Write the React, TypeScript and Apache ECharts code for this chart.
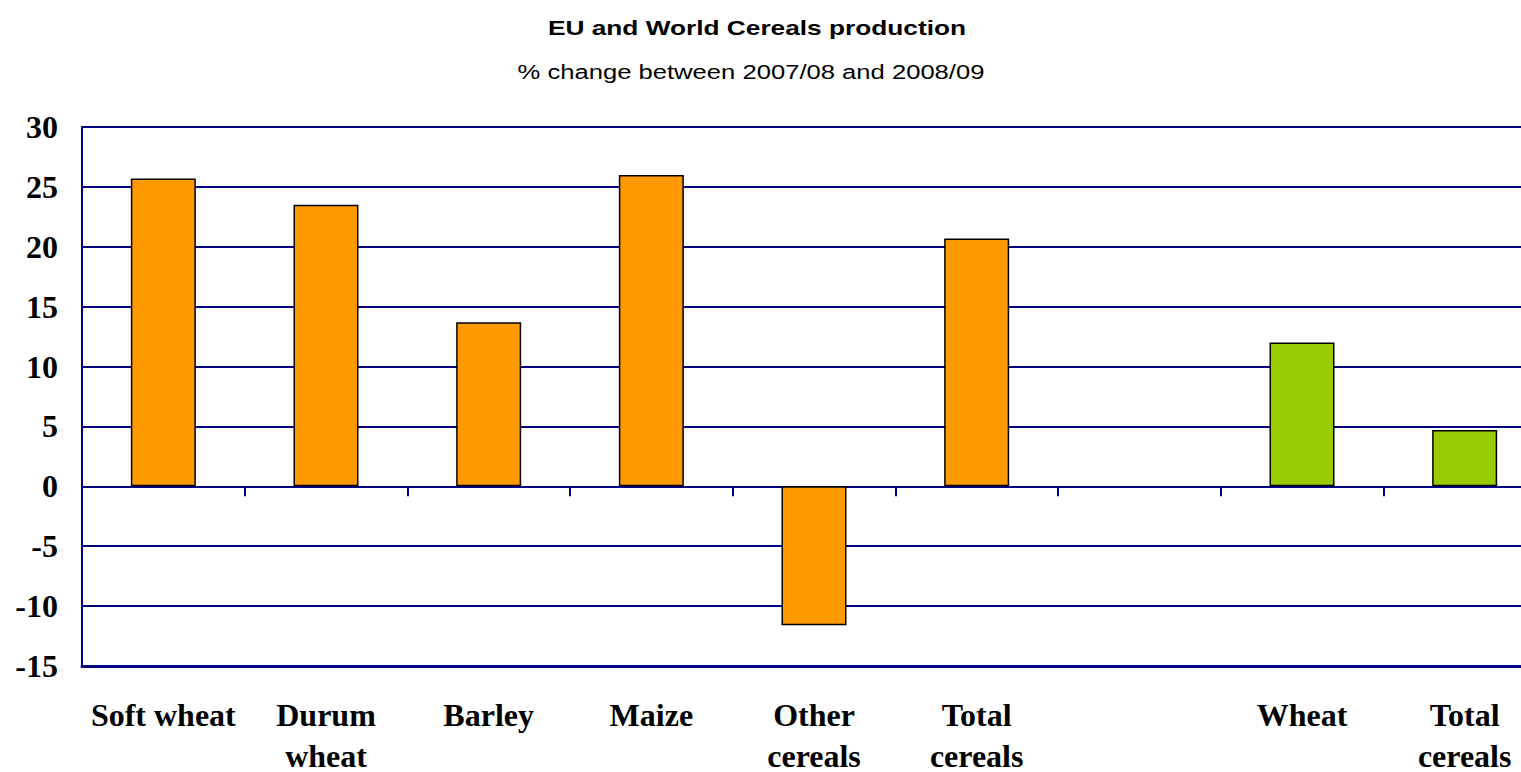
import React, { useEffect, useRef } from "react";
import * as echarts from "echarts";

const categories = [
  "Soft wheat",
  "Durum\nwheat",
  "Barley",
  "Maize",
  "Other\ncereals",
  "Total\ncereals",
  "",
  "Wheat",
  "Total\ncereals",
];
const values: (number | null)[] = [25.7, 23.5, 13.7, 26.0, -11.6, 20.7, null, 12.0, 4.7];
const groups = ["EU", "EU", "EU", "EU", "EU", "EU", "", "World", "World"];
const groupColors: Record<string, string> = { EU: "#FF9900", World: "#99CC00" };
const yTicks = { min: -15, max: 30, interval: 5 };
const titleText = "EU and World Cereals production";
const subtitleText = "% change between 2007/08 and 2008/09";

const NAVY = "#000080";
const SERIF = "'Liberation Serif', 'Times New Roman', serif";
const SANS = "'Liberation Sans', Arial, sans-serif";

export default function App() {
  const ref = useRef<HTMLDivElement>(null);
  useEffect(() => {
    if (!ref.current) return;
    const chart = echarts.init(ref.current, undefined, { renderer: "svg" });
    chart.setOption({
      animation: false,
      backgroundColor: "#ffffff",
      graphic: [
        {
          type: "text",
          x: 757,
          y: 27,
          scaleX: 1.25,
          style: {
            text: titleText,
            fontFamily: SANS,
            fontWeight: "bold",
            fontSize: 21,
            fill: "#000",
            textAlign: "center",
            textVerticalAlign: "middle",
          },
        },
        {
          type: "text",
          x: 751,
          y: 72,
          scaleX: 1.22,
          style: {
            text: subtitleText,
            fontFamily: SANS,
            fontWeight: "normal",
            fontSize: 21,
            fill: "#000",
            textAlign: "center",
            textVerticalAlign: "middle",
          },
        },
      ],
      grid: {
        left: 82,
        top: 127,
        right: -25,
        bottom: 106,
        containLabel: false,
        outerBoundsMode: "none",
      },
      xAxis: [
        {
          type: "category",
          data: categories,
          position: "bottom",
          boundaryGap: true,
          axisLine: { show: true, onZero: false, lineStyle: { color: NAVY, width: 3 } },
          axisTick: { show: false },
          axisLabel: {
            interval: 0,
            margin: 28,
            fontFamily: SERIF,
            fontWeight: "bold",
            fontSize: 32,
            lineHeight: 41,
            color: "#000",
          },
        },
        {
          type: "category",
          data: categories,
          position: "bottom",
          boundaryGap: true,
          axisLine: { show: true, onZero: true, lineStyle: { color: NAVY, width: 2 } },
          axisTick: { show: true, inside: false, length: 10, lineStyle: { color: NAVY, width: 2 } },
          axisLabel: { show: false },
        },
      ],
      yAxis: {
        type: "value",
        min: yTicks.min,
        max: yTicks.max,
        interval: yTicks.interval,
        axisLine: { show: true, lineStyle: { color: NAVY, width: 2 } },
        axisTick: { show: false },
        splitLine: { show: true, lineStyle: { color: NAVY, width: 2 } },
        axisLabel: {
          margin: 24,
          fontFamily: SERIF,
          fontWeight: "bold",
          fontSize: 32,
          color: "#000",
        },
      },
      series: [
        {
          type: "bar",
          xAxisIndex: 0,
          barWidth: 65,
          data: values.map((v, i) => ({
            value: v === null ? "-" : v,
            itemStyle: {
              color: groupColors[groups[i]] || "#FF9900",
              borderColor: "#000",
              borderWidth: 1.5,
            },
          })),
        },
      ],
    });
    return () => chart.dispose();
  }, []);
  return (
    <div
      ref={ref}
      style={{ position: "absolute", left: 0, top: 0, width: 1521, height: 772 }}
    />
  );
}
